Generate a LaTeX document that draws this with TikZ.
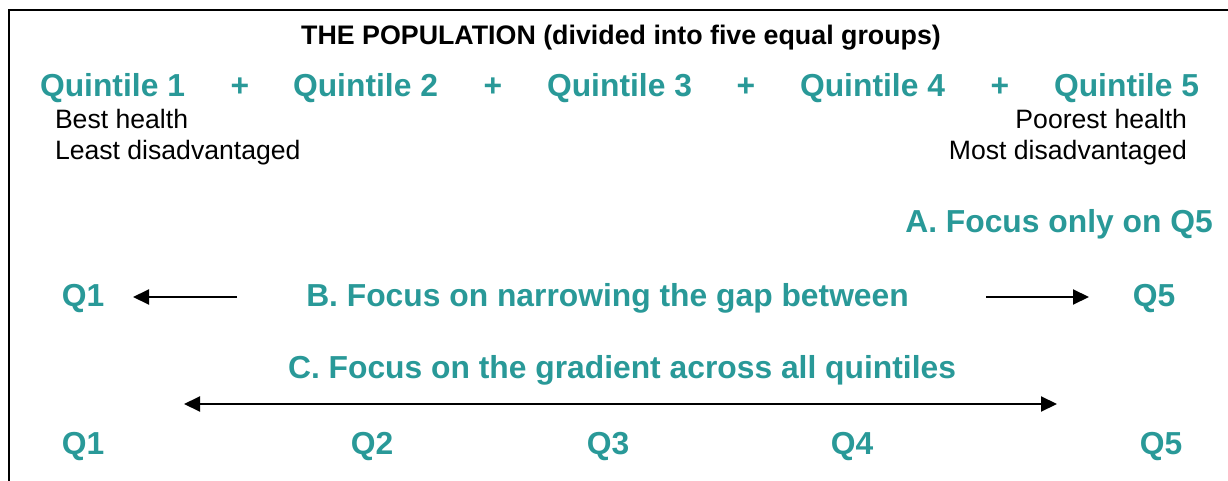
\documentclass[tikz,border=0pt]{standalone}
\usepackage{fontspec}
\setmainfont{Liberation Sans}
\usetikzlibrary{arrows.meta}
\definecolor{teal}{RGB}{41,153,152}
\begin{document}
\begin{tikzpicture}[x=1pt,y=-1pt,
  every node/.style={inner sep=0pt, outer sep=0pt},
  title/.style={anchor=base, font=\fontsize{26.8}{30}\selectfont\bfseries},
  qlabel/.style={anchor=base, text=teal, font=\fontsize{31.8}{36}\selectfont\bfseries},
  note/.style={font=\fontsize{26.6}{30}\selectfont},
  arr/.style={line width=2pt, -{Triangle[length=16pt,width=15pt]}},
  darr/.style={line width=2pt, {Triangle[length=16pt,width=15pt]}-{Triangle[length=16pt,width=15pt]}},
  frame/.style={line width=2pt}]
\useasboundingbox (0,0) rectangle (1228,481);
\coordinate (fr) at (1228,10);
\coordinate (fc) at (9,10);
\coordinate (fb) at (9,481);
\draw[frame] (fr) -- (fc) -- (fb);

\node[title] (title) at (621,45) {THE POPULATION (divided into five equal groups)};

\node[qlabel] (qa) at (112.5,97) {Quintile 1};
\node[qlabel] (qb) at (365.5,97) {Quintile 2};
\node[qlabel] (qc) at (619.5,97) {Quintile 3};
\node[qlabel] (qd) at (872.5,97) {Quintile 4};
\node[qlabel] (qe) at (1126.5,97) {Quintile 5};
\node[qlabel] (p1) at (240,97) {+};
\node[qlabel] (p2) at (493,97) {+};
\node[qlabel] (p3) at (746,97) {+};
\node[qlabel] (p4) at (1000,97) {+};

\node[note, anchor=base west] (best) at (55,129) {Best health};
\node[note, anchor=base west] (least) at (55,160) {Least disadvantaged};
\node[note, anchor=base east] (poor) at (1187,129) {Poorest health};
\node[note, anchor=base east] (most) at (1187,160) {Most disadvantaged};

\node[qlabel] (focA) at (1059,232) {A. Focus only on Q5};

\node[qlabel] (bq1) at (83,306) {Q1};
\node[qlabel] (focB) at (607.5,306) {B. Focus on narrowing the gap between};
\node[qlabel] (bq5) at (1154,306) {Q5};
\coordinate (bl1) at (237,297);
\coordinate (bl2) at (133,297);
\coordinate (br1) at (986,297);
\coordinate (br2) at (1089,297);
\draw[arr] (bl1) -- (bl2);
\draw[arr] (br1) -- (br2);

\node[qlabel] (focC) at (622,378) {C. Focus on the gradient across all quintiles};
\coordinate (cl) at (184,404);
\coordinate (cr) at (1057,404);
\draw[darr] (cl) -- (cr);

\node[qlabel] (c1) at (83,454) {Q1};
\node[qlabel] (c2) at (372,454) {Q2};
\node[qlabel] (c3) at (608,454) {Q3};
\node[qlabel] (c4) at (852,454) {Q4};
\node[qlabel] (c5) at (1161,454) {Q5};
\end{tikzpicture}
\end{document}
